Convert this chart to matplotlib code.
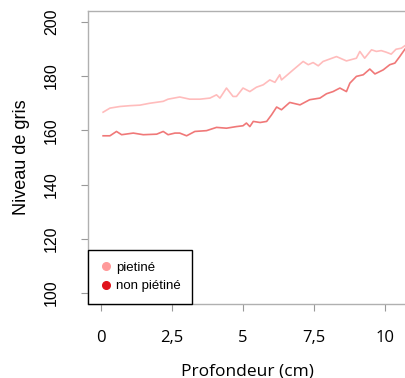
import numpy as np
import matplotlib
matplotlib.use("Agg")
import matplotlib.pyplot as plt
from matplotlib.lines import Line2D

# profondeur (cm) et niveau de gris
x_piet = [0.09, 0.33, 0.68, 1.03, 1.38, 1.73, 2.2, 2.37, 2.78, 3.13, 3.49, 3.84,
          4.07, 4.19, 4.42, 4.65, 4.77, 5.0, 5.24, 5.47, 5.71, 5.94, 6.12, 6.29,
          6.35, 6.76, 7.11, 7.29, 7.46, 7.64, 7.81, 8.28, 8.63, 8.98, 9.1, 9.27,
          9.51, 9.68, 9.85, 10.03, 10.2, 10.37, 10.56, 10.68]
y_piet = [166.7, 168.2, 168.8, 169.1, 169.3, 170.0, 170.7, 171.5, 172.3, 171.5,
          171.5, 171.9, 173.1, 171.9, 175.6, 172.5, 172.5, 175.6, 174.3, 175.9,
          176.8, 178.6, 177.7, 180.5, 178.6, 182.3, 185.4, 184.2, 185.0, 183.8,
          185.4, 187.2, 185.6, 186.6, 189.1, 186.6, 189.7, 189.1, 189.4, 188.8,
          188.1, 189.9, 190.3, 191.2]

x_non = [0.09, 0.33, 0.56, 0.74, 1.15, 1.5, 1.97, 2.2, 2.37, 2.61, 2.78, 3.02,
         3.31, 3.72, 4.07, 4.42, 4.77, 5.0, 5.12, 5.24, 5.36, 5.6, 5.83, 6.0,
         6.18, 6.35, 6.64, 7.0, 7.34, 7.7, 7.93, 8.16, 8.4, 8.63, 8.75, 8.98,
         9.22, 9.45, 9.63, 9.92, 10.15, 10.33, 10.5, 10.68]
y_non = [158.0, 158.0, 159.6, 158.4, 159.0, 158.4, 158.6, 159.6, 158.4, 159.0,
         159.0, 158.0, 159.6, 159.9, 161.1, 160.8, 161.4, 161.7, 162.7, 161.4,
         163.3, 162.9, 163.3, 165.7, 168.6, 167.6, 170.3, 169.4, 171.3, 171.9,
         173.5, 174.3, 175.6, 174.3, 177.4, 179.9, 180.5, 182.6, 180.8, 182.3,
         184.2, 184.8, 187.2, 189.9]

xticks = [0, 2.5, 5, 7.5, 10]
xticklabels = ["0", "2,5", "5", "7,5", "10"]
yticks = [100, 120, 140, 160, 180, 200]

fig = plt.figure(figsize=(4.06, 3.78), dpi=100)
ax = fig.add_axes([88/406, 1-304/378, 1-88/406, (304-11)/378])

ax.plot(x_piet, y_piet, color="#ffbcbc", lw=1.2)
ax.plot(x_non, y_non, color="#f07878", lw=1.2)

ax.set_xlim(-0.44, 10.72)
ax.set_ylim(96, 204)
ax.set_xticks(xticks)
ax.set_xticklabels(xticklabels, family="Open Sans", fontsize=12)
ax.set_yticks(yticks)
ax.set_yticklabels([str(v) for v in yticks], family="Liberation Sans",
                   fontsize=11.5, rotation=90, va="center")
ax.tick_params(axis="both", color="#999999", length=5, width=0.8)
ax.tick_params(axis="y", pad=16)
ax.tick_params(axis="x", pad=14)

for s in ["left", "top", "bottom"]:
    ax.spines[s].set_color("#b0b0b0")
    ax.spines[s].set_linewidth(1)
ax.spines["right"].set_visible(False)

ax.set_xlabel("Profondeur (cm)", family="Open Sans", fontsize=12.5, labelpad=12)
ax.set_ylabel("Niveau de gris", family="Liberation Sans", fontsize=13, labelpad=10)

handles = [Line2D([], [], marker="o", ls="", color="#ff9a9a", markersize=5.5),
           Line2D([], [], marker="o", ls="", color="#e0141c", markersize=5.5)]
leg = ax.legend(handles, ["pietiné", "non piétiné"], loc="lower left",
                bbox_to_anchor=(0, 0), borderaxespad=0, fancybox=False,
                edgecolor="black", framealpha=1, prop={"family": "Liberation Sans", "size": 9.5},
                handletextpad=0.2, handlelength=1.0, borderpad=0.9, labelspacing=0.45)
leg.get_frame().set_linewidth(1)

fig.savefig("out.png", dpi=100)
